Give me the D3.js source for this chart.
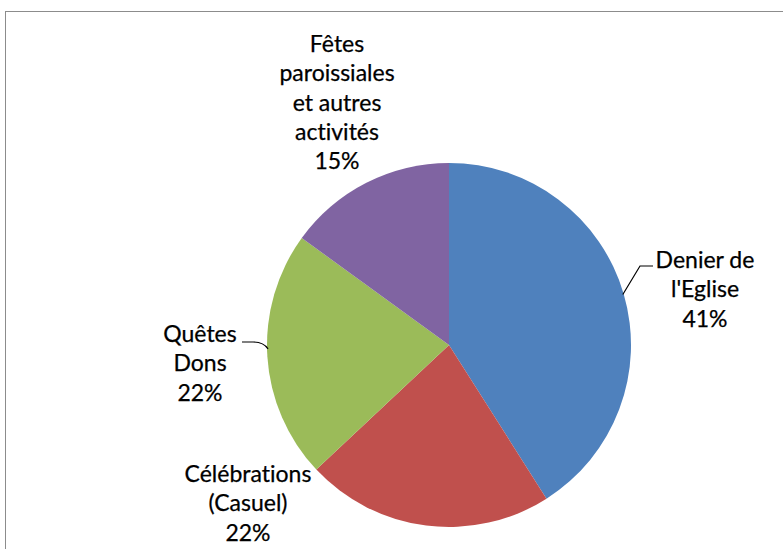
<!DOCTYPE html>
<html><head><meta charset="utf-8">
<script src="https://cdn.jsdelivr.net/npm/d3@7"></script>
<style>body{margin:0;background:#fff} text{font-variant-ligatures:none;font-feature-settings:"liga" 0,"dlig" 0}</style>
</head><body>
<svg id="c" width="783" height="549"></svg>
<script>
const categories = ["Denier de l'Eglise", "Célébrations (Casuel)", "Quêtes Dons", "Fêtes paroissiales et autres activités"];
const labelLines = [["Denier de", "l'Eglise"], ["Célébrations", "(Casuel)"], ["Quêtes", "Dons"], ["Fêtes", "paroissiales", "et autres", "activités"]];
const values = [41, 22, 22, 15];
const percentLabels = ["41%", "22%", "22%", "15%"];
const colors = ["#4F81BD", "#C0504D", "#9BBB59", "#8064A2"];

// layout (label centres relative to pie centre; first-line baseline)
const labelPos = [{x: 256, y: -77}, {x: -201, y: 137}, {x: -249, y: -3}, {x: -112, y: -293}];
const lineH = 29.3;

const svg = d3.select("#c");
svg.append("rect").attr("x", 5.5).attr("y", 11.5).attr("width", 800).attr("height", 600)
  .attr("fill", "#fff").attr("stroke", "#8c8c8c").attr("stroke-width", 1);

const cx = 449, cy = 345, r = 182;
const g = svg.append("g").attr("transform", `translate(${cx},${cy})`);
const pie = d3.pie().sort(null).value(d => d)(values);
const arc = d3.arc().innerRadius(0).outerRadius(r);
g.selectAll("path.slice").data(pie).enter().append("path").attr("class", "slice")
  .attr("d", arc).attr("fill", (d, i) => colors[i]);

// leader lines
const line = d3.line();
const pt = (ang, rr) => [rr * Math.sin(ang), -rr * Math.cos(ang)];
{
  const a = (pie[0].startAngle + pie[0].endAngle) / 2;
  const p0 = pt(a, r - 1);
  g.append("path").attr("d", line([p0, [191, -79], [204, -79]]))
    .attr("fill", "none").attr("stroke", "#000").attr("stroke-width", 1.2);
}
{
  const a = pie[2].startAngle + (pie[2].endAngle - pie[2].startAngle) * 0.53;
  const p0 = pt(a, r - 1);
  g.append("path").attr("d", `M${p0[0]},${p0[1]} C${p0[0]-4},${p0[1]-6} ${-190},${-3} ${-196},${-3} L${-207},${-3}`)
    .attr("fill", "none").attr("stroke", "#000").attr("stroke-width", 1.2);
}

const font = "Lato, 'Open Sans', sans-serif";
labelLines.forEach((lines, i) => {
  const all = lines.concat([percentLabels[i]]);
  const t = g.append("text").attr("text-anchor", "middle")
    .attr("font-family", font).attr("font-size", 23).attr("fill", "#000")
    .attr("stroke", "#000").attr("stroke-width", 0.25);
  all.forEach((s, j) => {
    t.append("tspan").attr("x", labelPos[i].x).attr("y", labelPos[i].y + j * lineH).text(s);
  });
});
</script>
</body></html>
